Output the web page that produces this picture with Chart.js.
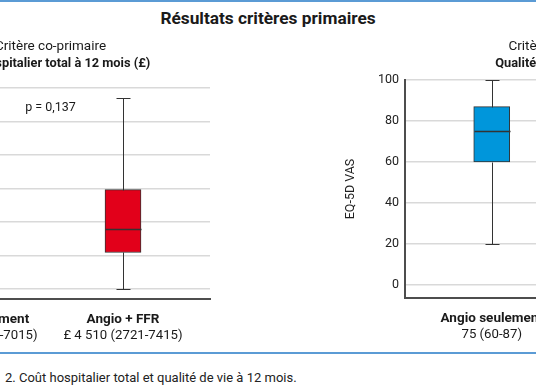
<!DOCTYPE html>
<html><head><meta charset="utf-8">
<script src="https://cdn.jsdelivr.net/npm/chart.js@4"></script>
<style>
html,body{margin:0;padding:0;background:#fff;width:536px;height:386px;overflow:hidden;position:relative;font-family:Roboto, sans-serif;}
#topline{position:absolute;left:0;top:0;width:536px;height:2px;background:#5b9bd5}
#title{position:absolute;left:0;top:8px;width:536px;text-align:center;font-weight:bold;font-size:17.3px;color:#1a1a1a}
#sep{position:absolute;left:0;top:352px;width:536px;height:2px;background:#5b9bd5}
#caption{position:absolute;left:5px;top:370px;font-size:13px;color:#222;white-space:nowrap}
#cl{position:absolute;left:-200px;top:0}
#cr{position:absolute;left:339px;top:0}
</style></head>
<body>
<div id="topline"></div>
<div id="title">Résultats critères primaires</div>
<canvas id="cl" width="420" height="350"></canvas>
<canvas id="cr" width="400" height="350"></canvas>
<div id="sep"></div>
<div id="caption">2. Coût hospitalier total et qualité de vie à 12 mois.</div>
<script>
const categories = ['Angio seulement', 'Angio + FFR'];
const positions = [0, 1];

const costStats = ['£ 4 136 (2613-7015)', '£ 4 510 (2721-7415)'];
const costMin = [0, 0];
const costQ1 = [2613, 2721];
const costMedian = [4136, 4510];
const costQ3 = [7015, 7415];
const costMax = [13600, 14250];
const costTicks = [0, 2500, 5000, 7500, 10000, 12500, 15000];
const costTitle1 = 'Critère co-primaire';
const costTitle2 = 'Coût hospitalier total à 12 mois (£)';
const costP = 'p = 0,137';

const vasStats = ['75 (60-87)', '75 (60-85)'];
const vasMin = [20, 25];
const vasQ1 = [60, 60];
const vasMedian = [75, 75];
const vasQ3 = [87, 85];
const vasMax = [100, 100];
const vasTicks = [0, 20, 40, 60, 80, 100];
const vasTitle1 = 'Critère co-primaire';
const vasTitle2 = 'Qualité de vie à 12 mois';
const vasAxisTitle = 'EQ-5D VAS';

const FONT = 'Roboto, sans-serif';

const boxPlugin = {
  id: 'boxWhisker',
  afterDatasetsDraw(chart, args, o) {
    const {ctx, scales: {x, y}} = chart;
    const meta = chart.getDatasetMeta(0);
    ctx.save();
    ctx.strokeStyle = '#333';
    o.min.forEach((mn, i) => {
      const cx = Math.round(x.getPixelForValue(positions[i])) + 0.5;
      const half = meta.data[i].width / 2;
      const cap = 7;
      const py = v => Math.round(y.getPixelForValue(v)) + 0.5;
      ctx.lineWidth = 1;
      ctx.beginPath();
      ctx.moveTo(cx, py(o.q3[i])); ctx.lineTo(cx, py(o.max[i]));
      ctx.moveTo(cx - cap, py(o.max[i])); ctx.lineTo(cx + cap, py(o.max[i]));
      ctx.moveTo(cx, py(o.q1[i])); ctx.lineTo(cx, py(mn));
      ctx.moveTo(cx - cap, py(mn)); ctx.lineTo(cx + cap, py(mn));
      ctx.stroke();
      ctx.lineWidth = 1.5;
      ctx.beginPath();
      ctx.moveTo(cx - half, py(o.median[i])); ctx.lineTo(cx + half, py(o.median[i]));
      ctx.stroke();
    });
    ctx.restore();
  }
};

const textPlugin = {
  id: 'panelText',
  afterDraw(chart, args, o) {
    const {ctx, chartArea: a, scales: {x}} = chart;
    const mid = (a.left + a.right) / 2;
    ctx.save();
    ctx.fillStyle = '#1a1a1a';
    ctx.textAlign = 'center';
    ctx.textBaseline = 'middle';
    ctx.font = '13.5px ' + FONT;
    ctx.fillText(o.t1, mid, 47);
    ctx.font = 'bold 12.8px ' + FONT;
    ctx.fillText(o.t2, mid, 64);
    if (o.p) { ctx.font = '12.5px ' + FONT; ctx.fillText(o.p, mid, a.top + 20); }
    categories.forEach((c, i) => {
      const px = x.getPixelForValue(positions[i]);
      ctx.font = 'bold 13.5px ' + FONT;
      ctx.fillText(c, px, a.bottom + 21);
      ctx.font = '13.2px ' + FONT;
      ctx.fillText(o.stats[i], px, a.bottom + 37);
    });
    ctx.restore();
  }
};

function makeChart(id, cfg) {
  return new Chart(document.getElementById(id), {
    type: 'bar',
    data: {
      datasets: [{
        data: positions.map((p, i) => ({x: p, y: [cfg.q1[i], cfg.q3[i]]})),
        backgroundColor: cfg.color,
        borderColor: '#333',
        borderWidth: 1,
        borderSkipped: false,
        barThickness: 36
      }]
    },
    options: {
      responsive: false,
      animation: false,
      layout: {padding: cfg.padding},
      plugins: {
        legend: {display: false},
        tooltip: {enabled: false},
        boxWhisker: {min: cfg.min, q1: cfg.q1, median: cfg.median, q3: cfg.q3, max: cfg.max},
        panelText: {t1: cfg.t1, t2: cfg.t2, p: cfg.p, stats: cfg.stats}
      },
      scales: {
        x: {
          type: 'linear', min: -0.6, max: 1.6, offset: false,
          grid: {display: false, drawTicks: false},
          ticks: {display: false},
          border: {display: true, color: '#4d4d4d', width: 2},
          afterFit: s => { s.height = 0; }
        },
        y: {
          min: cfg.ymin, max: cfg.ymax,
          afterBuildTicks: s => { s.ticks = cfg.ticks.map(v => ({value: v})); },
          afterFit: s => { s.width = cfg.yWidth; },
          grid: {color: '#d9d9d9', lineWidth: 1.5, drawTicks: false},
          border: {display: cfg.yBorder, color: '#4d4d4d', width: 2},
          ticks: {padding: 6, color: '#222', font: {family: FONT, size: 12.5},
                  callback: v => cfg.fmt(v)},
          title: {display: !!cfg.yTitle, text: cfg.yTitle || '', color: '#222',
                  font: {family: FONT, size: 12.5}, padding: {top: 4, bottom: 4}}
        }
      }
    },
    plugins: [boxPlugin, textPlugin]
  });
}

makeChart('cl', {
  q1: costQ1, q3: costQ3, min: costMin, max: costMax, median: costMedian,
  color: '#e2001a', ymin: -750, ymax: 15000, ticks: costTicks,
  fmt: v => v.toLocaleString('fr-FR'),
  yWidth: 91, yBorder: true, padding: {left: 0, right: 10, top: 88, bottom: 51},
  t1: costTitle1, t2: costTitle2, p: costP, stats: costStats
});
makeChart('cr', {
  q1: vasQ1, q3: vasQ3, min: vasMin, max: vasMax, median: vasMedian,
  color: '#0096db', ymin: -6.5, ymax: 100, ticks: vasTicks,
  fmt: v => String(v),
  yWidth: 66, yBorder: true, padding: {left: 0, right: 16, top: 80, bottom: 52},
  t1: vasTitle1, t2: vasTitle2, p: null, stats: vasStats, yTitle: vasAxisTitle
});
</script>
</body></html>
